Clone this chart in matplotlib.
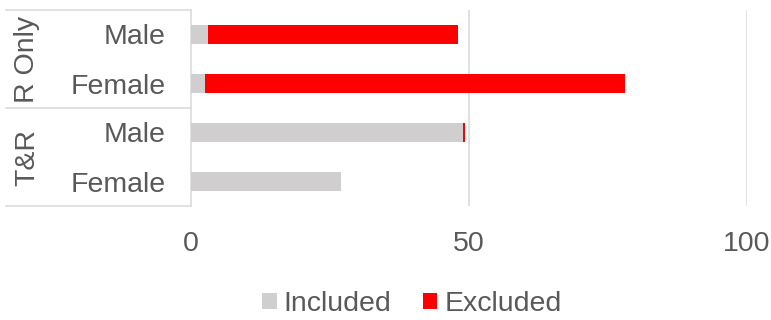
import matplotlib.pyplot as plt
import numpy as np

# rows listed top to bottom
groups = ['R Only', 'T&R']
sexes = ['Male', 'Female', 'Male', 'Female']
included = [3.0, 2.6, 49.0, 27.0]
excluded = [45.0, 75.5, 0.2, 0.0]
xticks = [0, 50, 100]

plt.rcParams['font.family'] = ['Liberation Sans', 'DejaVu Sans']
text_color = '#595959'
line_color = '#d9d9d9'
fs = 20.5

fig = plt.figure(figsize=(7.71, 3.2), dpi=100)
ax = fig.add_axes([191 / 771, 1 - 206 / 320, 556 / 771, 196 / 320])

y = np.arange(len(sexes))[::-1]
ax.barh(y, included, height=0.4, color='#d0cece', label='Included', zorder=3)
ax.barh(y, excluded, left=included, height=0.4, color='#ff0000', label='Excluded', zorder=3)

ax.set_xlim(0, 100)
ax.set_ylim(-0.5, 3.5)
ax.set_xticks(xticks)
ax.set_xticklabels([str(t) for t in xticks], fontsize=fs, color=text_color)
ax.set_yticks(y)
ax.set_yticklabels(sexes, fontsize=fs, color=text_color)
ax.tick_params(axis='both', length=0)
ax.tick_params(axis='x', pad=18)
ax.tick_params(axis='y', pad=18)
for s in ['top', 'right', 'bottom']:
    ax.spines[s].set_visible(False)
ax.spines['left'].set_color(line_color)
ax.spines['left'].set_linewidth(1.1)

for xv in xticks[1:]:
    ax.axvline(xv, color=line_color, lw=1.1, zorder=1)

# category frame lines to the left of the axis
tr = ax.get_yaxis_transform()
for yb in [3.5, 1.5, -0.5]:
    ax.plot([-0.333, 0], [yb, yb], transform=tr, color=line_color, lw=1.1, clip_on=False)

for i, g in enumerate(groups):
    yc = 2.5 - 2 * i
    ax.text(-0.295, yc, g, transform=tr, rotation=90, ha='center', va='center',
            fontsize=fs, color=text_color)

leg = fig.legend(loc='center', bbox_to_anchor=(412 / 771, 1 - 304 / 320), ncol=2,
                 frameon=False, fontsize=fs, handlelength=0.5, handleheight=0.5,
                 handletextpad=0.25, columnspacing=1.1)
for t in leg.get_texts():
    t.set_color(text_color)

fig.savefig('out.png', dpi=100)
